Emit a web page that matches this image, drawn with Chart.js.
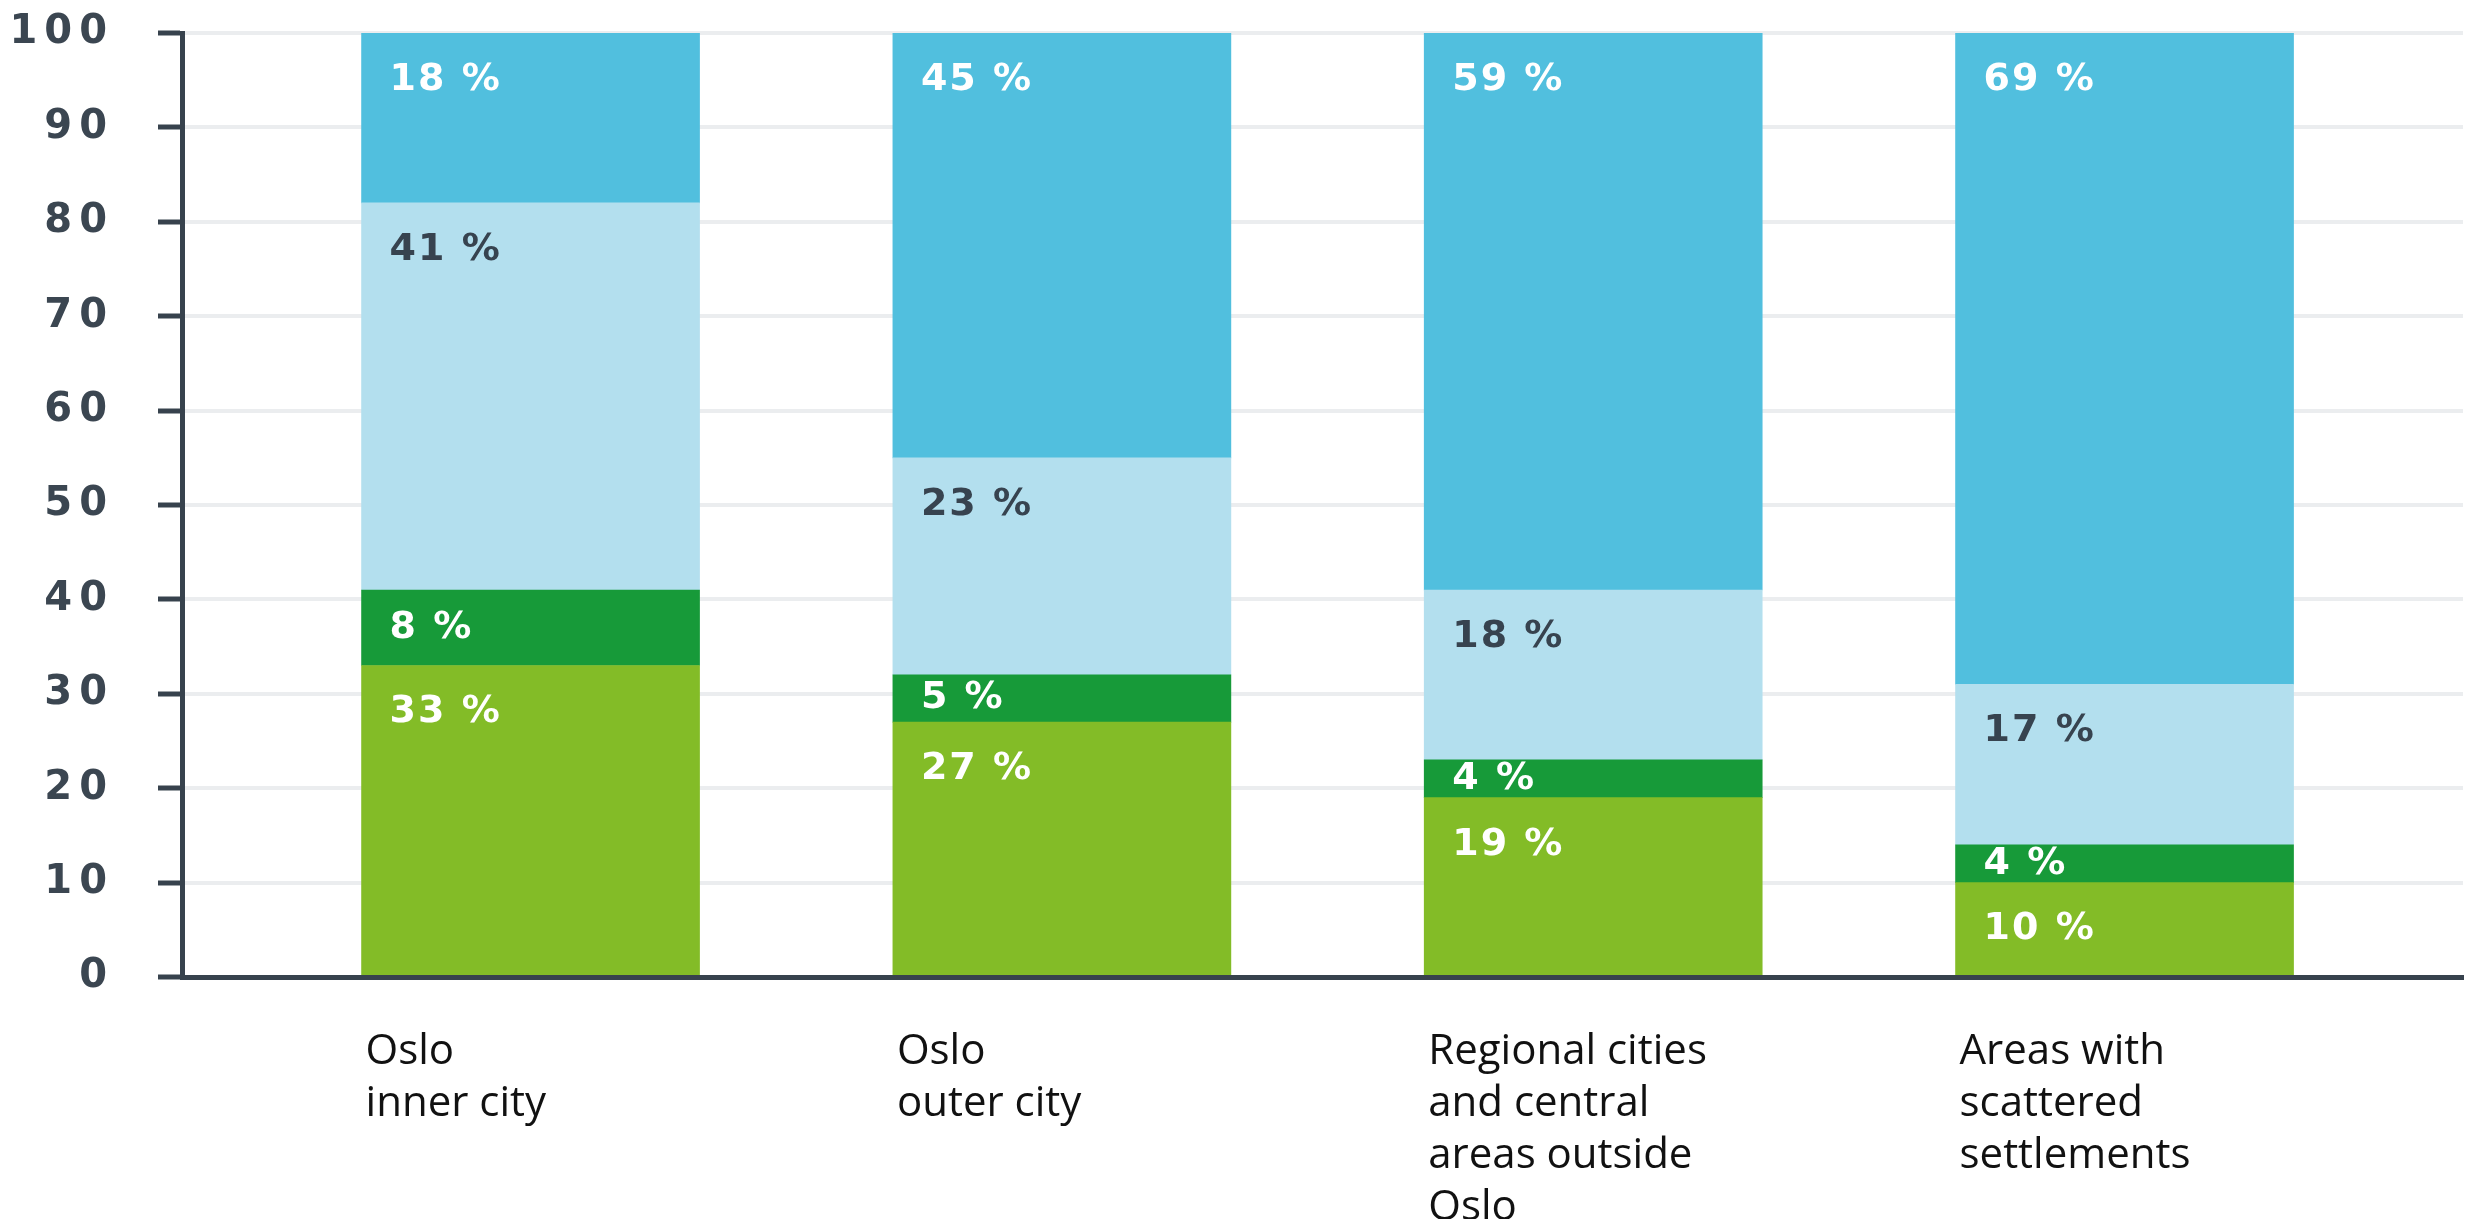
<!DOCTYPE html>
<html>
<head>
<meta charset="utf-8">
<script src="https://cdn.jsdelivr.net/npm/chart.js@4.4.1/dist/chart.umd.min.js"></script>
<style>
  html, body { margin: 0; padding: 0; background: #fff; }
  #wrap { width: 2476px; height: 1219px; position: relative; }
</style>
</head>
<body>
<div id="wrap"><canvas id="chart"></canvas></div>
<script>
// Categories, one entry per line of the axis label
const categories = [
    ['Oslo', 'inner city'],
    ['Oslo', 'outer city'],
    ['Regional cities', 'and central', 'areas outside', 'Oslo'],
    ['Areas with', 'scattered', 'settlements']
];

// Shares in %, bottom segment first
const lightGreenShare = [33, 27, 19, 10];
const darkGreenShare = [8, 5, 4, 4];
const lightBlueShare = [41, 23, 18, 17];
const blueShare = [18, 45, 59, 69];

const yTicks = [0, 10, 20, 30, 40, 50, 60, 70, 80, 90, 100];

const series = [lightGreenShare, darkGreenShare, lightBlueShare, blueShare];
const barColors = ['#83bc27', '#179a39', '#b3dfee', '#51bfde'];
const labelColors = ['#ffffff', '#ffffff', '#37434f', '#ffffff'];

const axisColor = '#37424d';
const gridColor = '#ebedef';

// Labels inside each segment, near its top
const segmentLabels = {
    id: 'segmentLabels',
    beforeDraw(chart) {
        chart.ctx.letterSpacing = '0px';
    },
    afterDatasetsDraw(chart) {
        const ctx = chart.ctx;
        ctx.save();
        ctx.font = 'bold 38px "DejaVu Sans"';
        ctx.letterSpacing = '2px';
        ctx.textAlign = 'left';
        ctx.textBaseline = 'middle';
        series.forEach((vals, di) => {
            chart.getDatasetMeta(di).data.forEach((bar, i) => {
                const h = bar.base - bar.y;
                const y = bar.y + Math.min(47, h / 2);
                ctx.fillStyle = labelColors[di];
                ctx.fillText(vals[i] + ' %', bar.x - bar.width / 2 + 28, y);
            });
        });
        ctx.restore();
        // y tick labels are drawn next (ticks.z = 1), wide spaced
        ctx.letterSpacing = '7px';
    },
    afterDraw(chart) {
        chart.ctx.letterSpacing = '0px';
    }
};

new Chart(document.getElementById('chart'), {
    type: 'bar',
    data: {
        datasets: series.map((vals, di) => ({
            data: vals.map((v, i) => ({ x: i, y: v })),
            backgroundColor: barColors[di],
            borderWidth: 0,
            barThickness: 338
        }))
    },
    options: {
        responsive: true,
        maintainAspectRatio: false,
        animation: false,
        layout: { padding: { top: 33, right: 13, left: 0, bottom: 0 } },
        plugins: { legend: { display: false }, tooltip: { enabled: false } },
        scales: {
            x: {
                type: 'linear',
                stacked: true,
                offset: false,
                min: -0.656,
                max: 3.637,
                afterBuildTicks: axis => { axis.ticks = categories.map((_, i) => ({ value: i })); },
                afterFit: axis => { axis.height = 242; },
                grid: { display: false, drawTicks: false },
                border: { display: true, color: axisColor, width: 5, z: 1 },
                ticks: {
                    align: 'start',
                    labelOffset: -165,
                    padding: 49,
                    maxRotation: 0,
                    autoSkip: false,
                    color: '#111111',
                    font: { family: '"Open Sans", sans-serif', size: 42, lineHeight: 1.24 },
                    callback: value => categories[value]
                }
            },
            y: {
                stacked: true,
                min: 0,
                max: 100,
                afterBuildTicks: axis => { axis.ticks = yTicks.map(v => ({ value: v })); },
                afterFit: axis => {
                    axis.width = 182;
                    axis.paddingTop = 0;
                    axis.paddingBottom = 0;
                },
                grid: {
                    color: gridColor,
                    lineWidth: 4,
                    tickColor: axisColor,
                    tickWidth: 5,
                    tickLength: 24,
                    drawTicks: true
                },
                border: { display: true, color: axisColor, width: 5 },
                ticks: {
                    z: 1,
                    padding: 44,
                    color: '#3b4651',
                    font: { family: '"DejaVu Sans", sans-serif', size: 40, weight: 'bold' }
                }
            }
        }
    },
    plugins: [segmentLabels]
});
</script>
</body>
</html>
